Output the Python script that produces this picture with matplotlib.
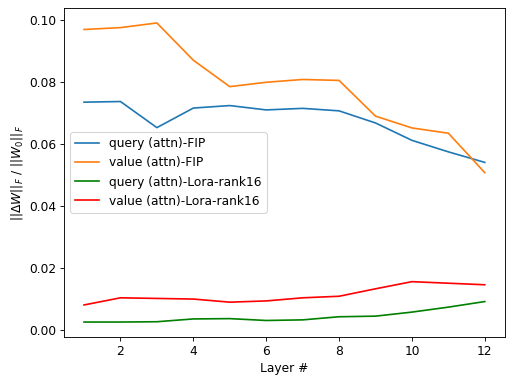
import matplotlib
matplotlib.use("Agg")
import matplotlib.pyplot as plt

layers = list(range(1, 13))
query_fip = [0.0735, 0.0737, 0.0653, 0.0716, 0.0724, 0.0710, 0.0715, 0.0707, 0.0668, 0.0612, 0.0575, 0.0541]
value_fip = [0.0969, 0.0975, 0.0990, 0.0870, 0.0785, 0.0799, 0.0808, 0.0805, 0.0690, 0.0652, 0.0635, 0.0508]
query_lora = [0.0027, 0.0027, 0.0028, 0.0037, 0.0038, 0.0032, 0.0034, 0.0044, 0.0046, 0.0059, 0.0075, 0.0093]
value_lora = [0.0082, 0.0105, 0.0103, 0.0101, 0.0091, 0.0095, 0.0105, 0.0110, 0.0134, 0.0157, 0.0152, 0.0147]

plt.rcParams["font.size"] = 11

# original looks like a 100 dpi figure shrunk down, so draw at 80 dpi
fig, ax = plt.subplots(figsize=(6.4, 381 / 80), dpi=80)
ax.plot(layers, query_fip, color="tab:blue", label="query (attn)-FIP")
ax.plot(layers, value_fip, color="tab:orange", label="value (attn)-FIP")
ax.plot(layers, query_lora, color="g", label="query (attn)-Lora-rank16")
ax.plot(layers, value_lora, color="r", label="value (attn)-Lora-rank16")
ax.set_xlabel("Layer #")
ax.set_ylabel(r"$||\Delta W||_F\ /\ ||W_0||_F$")
ax.legend(loc="center left")

fig.subplots_adjust(left=0.125, right=0.986, top=0.979, bottom=0.1155)
fig.savefig("out.png", dpi=80)
